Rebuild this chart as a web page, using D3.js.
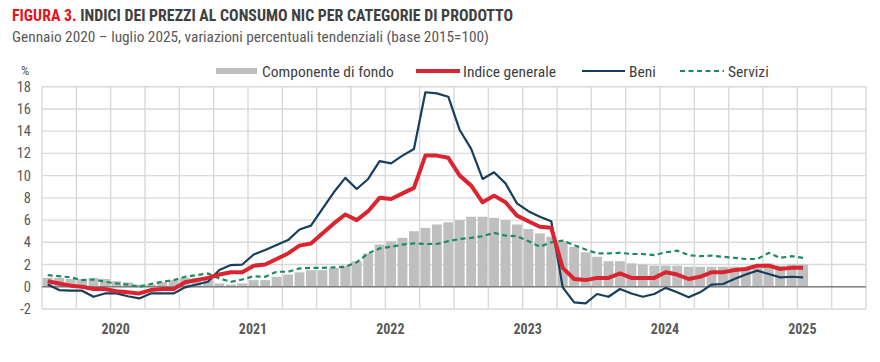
<!DOCTYPE html>
<html>
<head>
<meta charset="utf-8">
<script src="https://cdn.jsdelivr.net/npm/d3@7"></script>
<style>
  body { margin: 0; background: #fff; }
  svg text { font-family: "Liberation Sans Narrow", "Arial Narrow", "Roboto Condensed", sans-serif; }
</style>
</head>
<body>
<div id="chart"></div>
<script>
// Data: Jan 2020 - Jul 2025, year-on-year % changes
const years = ["2020", "2021", "2022", "2023", "2024", "2025"];
const monthNames = ["gen", "feb", "mar", "apr", "mag", "giu", "lug", "ago", "set", "ott", "nov", "dic"];
const yTicks = [-2, 0, 2, 4, 6, 8, 10, 12, 14, 16, 18];

// Componente di fondo (bars)
const core = [
  0.8, 0.8, 0.7, 0.7, 0.8, 0.7, 0.5, 0.4, 0.2, 0.2, 0.4, 0.6,
  0.8, 0.8, 0.8, 0.3, 0.2, 0.3, 0.6, 0.6, 0.9, 1.1, 1.3, 1.5,
  1.5, 1.7, 1.9, 2.3, 3.0, 3.8, 4.1, 4.4, 5.0, 5.3, 5.6, 5.8,
  6.0, 6.3, 6.3, 6.2, 6.0, 5.6, 5.2, 4.8, 4.5, 4.1, 3.6, 3.1,
  2.7, 2.3, 2.3, 2.1, 2.0, 1.9, 1.9, 1.9, 1.8, 1.8, 1.8, 1.8,
  1.8, 1.7, 1.7, 2.1, 1.9, 2.0, 2.0
];
// Indice generale
const general = [
  0.5, 0.3, 0.1, 0.0, -0.2, -0.2, -0.4, -0.5, -0.6, -0.3, -0.2, -0.2,
  0.4, 0.6, 0.8, 1.1, 1.3, 1.3, 1.9, 2.0, 2.5, 3.0, 3.7, 3.9,
  4.8, 5.7, 6.5, 6.0, 6.8, 8.0, 7.9, 8.4, 8.9, 11.8, 11.8, 11.6,
  10.0, 9.1, 7.6, 8.2, 7.6, 6.4, 5.9, 5.4, 5.3, 1.7, 0.7, 0.6,
  0.8, 0.8, 1.2, 0.8, 0.8, 0.8, 1.3, 1.1, 0.7, 0.9, 1.3, 1.3,
  1.5, 1.6, 1.9, 1.9, 1.6, 1.7, 1.7
];
// Beni
const goods = [
  0.2, -0.3, -0.35, -0.35, -0.9, -0.6, -0.6, -0.85, -1.05, -0.6, -0.6, -0.6,
  -0.05, 0.2, 0.45, 1.5, 1.95, 2.0, 2.9, 3.3, 3.75, 4.2, 5.15, 5.5,
  7.0, 8.5, 9.8, 8.8, 9.7, 11.3, 11.1, 11.8, 12.4, 17.5, 17.4, 17.1,
  14.1, 12.4, 9.7, 10.3, 9.3, 7.5, 6.8, 6.3, 5.9, -0.05, -1.4, -1.5,
  -0.65, -0.9, -0.2, -0.6, -0.9, -0.65, -0.1, -0.5, -0.95, -0.5, 0.2, 0.25,
  0.7, 1.1, 1.45, 1.15, 0.85, 0.9, 0.85
];
// Servizi
const services = [
  1.05, 0.95, 0.85, 0.6, 0.65, 0.45, 0.3, 0.2, 0.0, 0.25, 0.45, 0.6,
  0.9, 1.05, 1.2, 0.75, 0.45, 0.65, 0.95, 0.9, 1.35, 1.35, 1.65, 1.7,
  1.7, 1.75, 1.8, 2.2, 3.0, 3.45, 3.6, 3.8, 3.9, 3.85, 3.85, 4.1,
  4.3, 4.4, 4.55, 4.85, 4.6, 4.55, 4.1, 3.6, 4.0, 4.15, 3.75, 3.35,
  3.0, 3.0, 3.05, 2.95, 2.95, 2.85, 3.1, 3.25, 2.85, 2.75, 2.8, 2.7,
  2.6, 2.5, 2.5, 3.05, 2.6, 2.75, 2.6
];

const months = years.flatMap(y => monthNames.map(m => `${m} ${y}`));

const width = 880, height = 362;
const margin = {top: 86.7, right: 14, bottom: 53, left: 42};

const svg = d3.select("#chart")
  .append("svg")
  .attr("width", width)
  .attr("height", height);

const x = d3.scaleBand()
  .domain(months)
  .range([margin.left, width - margin.right])
  .padding(0);
const y = d3.scaleLinear()
  .domain([-2, 18])
  .range([height - margin.bottom, margin.top]);
const cx = i => x(months[i]) + x.bandwidth() / 2;

// Title
const title = svg.append("text")
  .attr("x", 12)
  .attr("y", 21)
  .attr("font-size", "16.5px")
  .attr("font-weight", "bold")
  .attr("textLength", 501)
  .attr("lengthAdjust", "spacingAndGlyphs");
title.append("tspan").attr("fill", "#e3141f").text("FIGURA 3. ");
title.append("tspan").attr("fill", "#404040").text("INDICI DEI PREZZI AL CONSUMO NIC PER CATEGORIE DI PRODOTTO");

svg.append("text")
  .attr("x", 12)
  .attr("y", 41.5)
  .attr("font-size", "15px")
  .attr("fill", "#595959")
  .attr("textLength", 477)
  .attr("lengthAdjust", "spacingAndGlyphs")
  .text("Gennaio 2020 \u2013 luglio 2025, variazioni percentuali tendenziali (base 2015=100)");

// Grid
const grid = svg.append("g");
grid.selectAll("line.h")
  .data(yTicks)
  .enter()
  .append("line")
  .attr("x1", margin.left)
  .attr("x2", width - margin.right)
  .attr("y1", d => y(d))
  .attr("y2", d => y(d))
  .attr("stroke", "#d9d9d9")
  .attr("stroke-width", 1.4);

const quarterEdges = months.filter((m, i) => i % 3 === 0).map(m => x(m)).concat([width - margin.right]);
grid.selectAll("line.v")
  .data(quarterEdges)
  .enter()
  .append("line")
  .attr("x1", d => d)
  .attr("x2", d => d)
  .attr("y1", y(18))
  .attr("y2", y(-2))
  .attr("stroke", "#d9d9d9")
  .attr("stroke-width", 1.4);

// Bars
const barW = x.bandwidth() * 0.86;
svg.append("g")
  .selectAll("rect")
  .data(core)
  .enter()
  .append("rect")
  .attr("x", (d, i) => cx(i) - barW / 2)
  .attr("width", barW)
  .attr("y", d => y(Math.max(0, d)))
  .attr("height", d => Math.abs(y(d) - y(0)))
  .attr("fill", "#bfbfbf");

// Zero line
svg.append("line")
  .attr("x1", margin.left)
  .attr("x2", width - margin.right)
  .attr("y1", y(0))
  .attr("y2", y(0))
  .attr("stroke", "#7f7f7f")
  .attr("stroke-width", 1.5);

// Lines
const line = d3.line()
  .x((d, i) => cx(i))
  .y(d => y(d));

svg.append("path")
  .datum(services)
  .attr("fill", "none")
  .attr("stroke", "#1f8a5e")
  .attr("stroke-width", 2.2)
  .attr("stroke-dasharray", "5,3.5")
  .attr("d", line);

svg.append("path")
  .datum(goods)
  .attr("fill", "none")
  .attr("stroke", "#173f5c")
  .attr("stroke-width", 2.2)
  .attr("stroke-linejoin", "round")
  .attr("d", line);

svg.append("path")
  .datum(general)
  .attr("fill", "none")
  .attr("stroke", "#da2531")
  .attr("stroke-width", 4)
  .attr("stroke-linejoin", "round")
  .attr("d", line);

// Y axis labels
svg.append("g")
  .selectAll("text")
  .data(yTicks)
  .enter()
  .append("text")
  .attr("x", 31)
  .attr("y", d => y(d) + 5)
  .attr("text-anchor", "end")
  .attr("font-size", "14.5px")
  .attr("fill", "#595959")
  .text(d => d);

svg.append("text")
  .attr("x", 25)
  .attr("y", 75)
  .attr("text-anchor", "middle")
  .attr("font-size", "13px")
  .attr("fill", "#595959")
  .text("%");

// X axis year labels
svg.append("g")
  .selectAll("text")
  .data(years)
  .enter()
  .append("text")
  .attr("x", (d, i) => x(months[i * 12]) + x.bandwidth() * 6 + 5)
  .attr("y", 334)
  .attr("text-anchor", "middle")
  .attr("font-size", "14px")
  .attr("font-weight", "bold")
  .attr("fill", "#595959")
  .text(d => d);

// Legend
const legend = svg.append("g").attr("transform", "translate(0,71)");
legend.append("rect")
  .attr("x", 216).attr("y", -3).attr("width", 41).attr("height", 6)
  .attr("fill", "#bfbfbf");
legend.append("line")
  .attr("x1", 416).attr("x2", 460).attr("y1", 0).attr("y2", 0)
  .attr("stroke", "#da2531").attr("stroke-width", 4);
legend.append("line")
  .attr("x1", 582).attr("x2", 625).attr("y1", 0).attr("y2", 0)
  .attr("stroke", "#173f5c").attr("stroke-width", 2.2);
legend.append("line")
  .attr("x1", 680).attr("x2", 724).attr("y1", 0).attr("y2", 0)
  .attr("stroke", "#1f8a5e").attr("stroke-width", 2.2)
  .attr("stroke-dasharray", "5,3.5");

const legendItems = [
  {label: "Componente di fondo", x: 262},
  {label: "Indice generale", x: 463},
  {label: "Beni", x: 629},
  {label: "Servizi", x: 728}
];
legend.selectAll("text.lbl")
  .data(legendItems)
  .enter()
  .append("text")
  .attr("x", d => d.x)
  .attr("y", 5.5)
  .attr("font-size", "15.5px")
  .attr("fill", "#404040")
  .text(d => d.label);
</script>
</body>
</html>
